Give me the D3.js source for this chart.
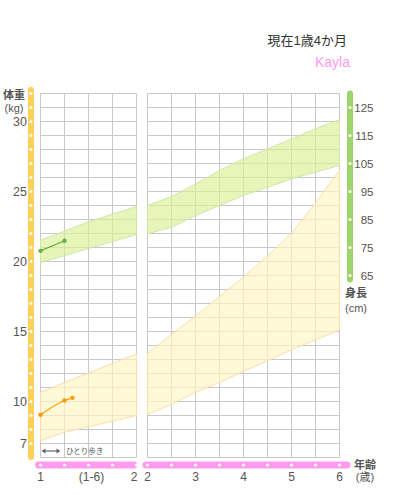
<!DOCTYPE html>
<html>
<head>
<meta charset="utf-8">
<script src="https://cdn.jsdelivr.net/npm/d3@7"></script>
<style>
  body { margin: 0; background: #fff; }
  svg { display: block; font-family: "Liberation Sans", Arial, "Noto Sans CJK JP", sans-serif; }
</style>
</head>
<body>
<svg width="400" height="495"></svg>
<script>
// left panel: 1-2 years, right panel: 2-6 years
const ageTicksL = [1, 1.25, 1.5, 1.75, 2];
const ageTicksR = [2, 2.5, 3, 3.5, 4, 4.5, 5, 5.5, 6];
const ageLabelsL = ["1", "(1-6)", "2"];
const ageLabelsR = ["2", "3", "4", "5", "6"];
const weightTicks = [30, 25, 20, 15, 10, 7];
const heightTicks = [65, 75, 85, 95, 105, 115, 125];

// height band (cm)
const hBandAgeL = [1, 1.5, 2];
const hBandUpL = [77.5, 84.2, 89.6];
const hBandLoL = [69.6, 74.6, 79.6];
const hBandUpR = [90.0, 93.2, 97.7, 102.5, 106.7, 110.2, 113.8, 117.4, 120.7];
const hBandLoR = [79.9, 82.2, 86.4, 90.0, 93.6, 96.5, 99.5, 101.9, 104.3];

// weight band (kg)
const wBandAgeL = [1, 1.25, 2];
const wBandUpL = [10.66, 11.35, 13.4];
const wBandLoL = [7.2, 7.8, 9.0];
const wBandUpR = [13.45, 14.8, 16.1, 17.5, 18.9, 20.4, 22.0, 24.2, 26.5];
const wBandLoR = [9.07, 9.8, 10.66, 11.37, 12.16, 12.9, 13.7, 14.4, 15.1];

// child's records
const kidHAge = [1, 1.25];
const kidH = [73.8, 77.4];
const kidWAge = [1, 1.25, 1.333];
const kidW = [9.05, 10.07, 10.26];

const svg = d3.select("svg");

const xL = d3.scaleLinear().domain([1, 2]).range([40.5, 136.5]);
const xR = d3.scaleLinear().domain([2, 6]).range([147.5, 339.5]);
const yW = d3.scaleLinear().domain([6, 32]).range([457.5, 93.5]);
const yH = d3.scaleLinear().domain([0, 130]).range([457.5, 93.5]);

const gridColor = "#c8c8c8";

// grids
function grid(x, ages) {
  const g = svg.append("g");
  g.selectAll("line.v").data(ages).enter().append("line")
    .attr("x1", d => x(d)).attr("x2", d => x(d))
    .attr("y1", yW(32)).attr("y2", yW(6))
    .attr("stroke", gridColor);
  g.selectAll("line.h").data(d3.range(6, 33)).enter().append("line")
    .attr("x1", x(ages[0])).attr("x2", x(ages[ages.length - 1]))
    .attr("y1", d => yW(d)).attr("y2", d => yW(d))
    .attr("stroke", gridColor);
}
grid(xL, ageTicksL);
grid(xR, ageTicksR);

// bands
function band(x, y, ages, up, lo, fill, stroke) {
  const pts = ages.map((a, i) => [x(a), y(up[i])])
    .concat(ages.map((a, i) => [x(a), y(lo[i])]).reverse());
  svg.append("path")
    .attr("d", d3.line()(pts) + "Z")
    .attr("fill", fill)
    .attr("fill-opacity", 0.68)
    .attr("stroke", stroke)
    .attr("stroke-width", 1);
}
band(xL, yH, hBandAgeL, hBandUpL, hBandLoL, "#dcf09a", "#cde9a8");
band(xR, yH, ageTicksR, hBandUpR, hBandLoR, "#dcf09a", "#cde9a8");
band(xL, yW, wBandAgeL, wBandUpL, wBandLoL, "#fff6c4", "#ffdcaa");
band(xR, yW, ageTicksR, wBandUpR, wBandLoR, "#fff6c4", "#ffdcaa");

// child's lines
const kidLine = d3.line().curve(d3.curveMonotoneX);
function kid(ages, vals, y, color) {
  const pts = ages.map((a, i) => [xL(a), y(vals[i])]);
  svg.append("path").attr("d", kidLine(pts))
    .attr("fill", "none").attr("stroke", color).attr("stroke-width", 1.2);
  svg.selectAll(null).data(pts).enter().append("circle")
    .attr("cx", d => d[0]).attr("cy", d => d[1]).attr("r", 2.2)
    .attr("fill", color);
}
kid(kidHAge, kidH, yH, "#6aaf3a");
kid(kidWAge, kidW, yW, "#ff9a0a");

// left axis bar (weight)
svg.append("rect").attr("x", 28).attr("y", 87).attr("width", 6).attr("height", 373)
  .attr("rx", 3).attr("fill", "#ffd05a");
svg.selectAll(null).data(d3.range(7, 33)).enter().append("circle")
  .attr("cx", 31).attr("cy", d => yW(d)).attr("r", 1.6).attr("fill", "#fff");

// right axis bar (height)
svg.append("rect").attr("x", 347).attr("y", 90.5).attr("width", 6).attr("height", 192)
  .attr("rx", 3).attr("fill", "#9dd46c");
svg.selectAll(null).data(heightTicks).enter().append("circle")
  .attr("cx", 350).attr("cy", d => yH(d)).attr("r", 1.6).attr("fill", "#fff");

// bottom bars (age)
const pink = "#ff9cf0";
svg.append("rect").attr("x", 35).attr("y", 461.5).attr("width", 102.5).attr("height", 7)
  .attr("rx", 3.5).attr("fill", pink);
svg.append("rect").attr("x", 142.5).attr("y", 461.5).attr("width", 208).attr("height", 7)
  .attr("rx", 3.5).attr("fill", pink);
svg.selectAll(null).data(ageTicksL).enter().append("circle")
  .attr("cx", d => xL(d)).attr("cy", 465).attr("r", 1.6).attr("fill", "#fff");
svg.selectAll(null).data(ageTicksR).enter().append("circle")
  .attr("cx", d => xR(d)).attr("cy", 465).attr("r", 1.6).attr("fill", "#fff");

// axes labels
const wAxis = svg.append("g").attr("transform", "translate(27,0)")
  .call(d3.axisLeft(yW).tickValues(weightTicks).tickSize(0).tickPadding(0));
const hAxis = svg.append("g").attr("transform", "translate(373.5,0)")
  .call(d3.axisLeft(yH).tickValues(heightTicks).tickSize(0).tickPadding(0));
[wAxis, hAxis].forEach(a => {
  a.select(".domain").remove();
  a.selectAll("text").attr("fill", "#555").attr("font-family", null);
});
wAxis.selectAll("text").attr("font-size", 12.5);
hAxis.selectAll("text").attr("font-size", 11.5);

const bottomL = [[1, "middle", 0], [1.5, "middle", 3], [2, "end", 1]];
svg.selectAll(null).data(bottomL).enter().append("text")
  .attr("x", d => xL(d[0]) + d[2]).attr("y", 481)
  .attr("text-anchor", d => d[1]).attr("font-size", 12).attr("fill", "#555")
  .text((d, i) => ageLabelsL[i]);
svg.selectAll(null).data([2, 3, 4, 5, 6]).enter().append("text")
  .attr("x", d => xR(d)).attr("y", 481)
  .attr("text-anchor", "middle").attr("font-size", 12).attr("fill", "#555")
  .text((d, i) => ageLabelsR[i]);

// unit labels
function label(x, y, t, size, weight) {
  svg.append("text").attr("x", x).attr("y", y).attr("text-anchor", "middle")
    .attr("font-size", size).attr("font-weight", weight || "normal")
    .attr("fill", "#555").text(t);
}
label(14, 99, "体重", 11, "bold");
label(14, 112, "(kg)", 11);
label(356, 297, "身長", 11, "bold");
label(356, 312, "(cm)", 11);
label(365, 469, "年齢", 11, "bold");
label(365, 481, "(歳)", 11);

// walking marker
const ay = 451;
svg.append("line").attr("x1", 43).attr("x2", 59).attr("y1", ay).attr("y2", ay)
  .attr("stroke", "#666").attr("stroke-width", 1.2);
svg.append("path").attr("d", `M41.5,${ay}l4,-2.5v5z M60.5,${ay}l-4,-2.5v5z`).attr("fill", "#666");
svg.append("text").attr("x", 66).attr("y", ay + 3).attr("font-size", 7.5)
  .attr("fill", "#555").text("ひとり歩き");

// title
svg.append("text").attr("x", 347).attr("y", 45).attr("text-anchor", "end")
  .attr("font-size", 13).attr("fill", "#333").text("現在1歳4か月");
svg.append("text").attr("x", 350).attr("y", 67).attr("text-anchor", "end")
  .attr("font-size", 14).attr("fill", "#ff99ee").text("Kayla");
</script>
</body>
</html>
